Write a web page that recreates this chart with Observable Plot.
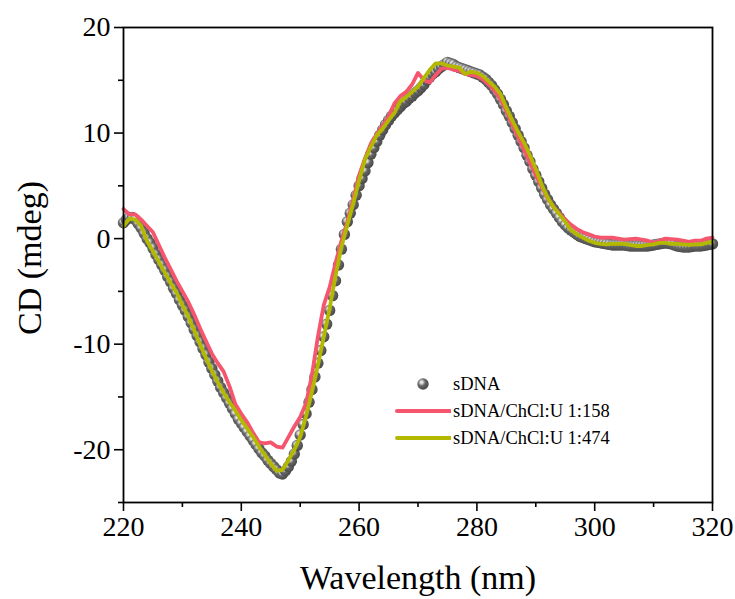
<!DOCTYPE html>
<html>
<head>
<meta charset="utf-8">
<script src="https://cdn.jsdelivr.net/npm/d3@7"></script>
<script src="https://cdn.jsdelivr.net/npm/@observablehq/plot@0.6"></script>
<style>
  html, body { margin: 0; padding: 0; background: #fff; }
  #wrap { position: relative; width: 735px; height: 599px; font-family: "Liberation Serif", "Times New Roman", serif; }
  #legend { position: absolute; left: 395px; top: 372px; font-size: 18.5px; color: #000; }
  .row { position: absolute; left: 0; height: 24px; width: 260px; }
  .row svg { position: absolute; left: 0; top: 0; }
  .row span { position: absolute; left: 58px; top: 0; line-height: 24px; white-space: nowrap; }
</style>
</head>
<body>
<div id="wrap">
  <div id="chart"></div>
  <div id="legend"></div>
</div>
<script>
// ---- data ----
// sDNA spheres: 220..320 nm every 0.5 nm
const sDNAWavelength = d3.range(0, 201).map(i => 220 + i * 0.5);
const sDNA = [
  1.5, 1.8, 2.0, 2.0, 1.8, 1.4, 1.0, 0.5, 0.0, -0.4,
  -0.9, -1.5, -2.0, -2.5, -3.0, -3.6, -4.1, -4.7, -5.2, -5.8,
  -6.3, -6.8, -7.4, -8.0, -8.6, -9.2, -9.8, -10.4, -11.0, -11.7,
  -12.3, -12.9, -13.5, -14.1, -14.6, -15.1, -15.6, -16.1, -16.6, -17.1,
  -17.5, -17.9, -18.3, -18.7, -19.1, -19.5, -19.9, -20.3, -20.6, -21.0,
  -21.3, -21.6, -21.9, -22.2, -22.3, -22.0, -21.6, -21.1, -20.4, -19.6,
  -18.6, -17.6, -16.6, -15.5, -14.3, -13.1, -11.8, -10.6, -9.3, -8.1,
  -6.8, -5.4, -4.0, -2.5, -1.0, 0.4, 1.6, 2.4, 3.2, 4.1,
  5.0, 5.7, 6.4, 7.2, 8.0, 8.6, 9.2, 9.8, 10.3, 10.8,
  11.2, 11.6, 11.9, 12.2, 12.5, 12.8, 13.0, 13.3, 13.5, 13.8,
  14.0, 14.3, 14.6, 15.0, 15.3, 15.6, 15.8, 16.1, 16.3, 16.5,
  16.7, 16.6, 16.5, 16.3, 16.2, 16.1, 16.0, 15.9, 15.8, 15.7,
  15.6, 15.5, 15.3, 15.1, 14.8, 14.5, 14.1, 13.7, 13.2, 12.7,
  12.1, 11.6, 11.0, 10.4, 9.8, 9.2, 8.6, 7.9, 7.3, 6.6,
  6.0, 5.4, 4.8, 4.2, 3.7, 3.2, 2.8, 2.4, 2.0, 1.6,
  1.3, 1.0, 0.8, 0.6, 0.4, 0.2, 0.1, 0.0, -0.1, -0.2,
  -0.3, -0.35, -0.4, -0.45, -0.5, -0.55, -0.6, -0.6, -0.6, -0.6,
  -0.6, -0.65, -0.7, -0.7, -0.7, -0.7, -0.7, -0.7, -0.7, -0.65,
  -0.6, -0.55, -0.5, -0.45, -0.4, -0.45, -0.5, -0.6, -0.7, -0.75,
  -0.8, -0.8, -0.8, -0.75, -0.7, -0.7, -0.7, -0.65, -0.6, -0.55,
  -0.5
];
// lines: 220..320 nm every 1 nm
const wavelength = d3.range(220, 321);
const ratio158 = [
  2.8, 2.3, 2.3, 1.8, 1.2, 0.6, -0.6, -1.8, -2.9, -4.0,
  -5.0, -6.0, -7.2, -8.5, -9.7, -10.9, -11.8, -12.6, -14.0, -15.7,
  -16.6, -17.4, -18.4, -19.3, -19.4, -19.3, -19.7, -19.8, -18.8, -17.8,
  -16.9, -15.6, -12.9, -9.3, -6.3, -4.6, -2.3, -0.2, 1.6, 3.7,
  6.0, 7.6, 9.0, 9.9, 10.7, 11.6, 12.8, 13.5, 13.9, 14.6,
  15.7, 15.0, 14.8, 15.5, 16.1, 16.2, 16.0, 15.9, 15.6, 15.5,
  15.4, 15.1, 14.6, 14.0, 13.2, 12.1, 10.8, 9.6, 8.4, 7.2,
  6.0, 4.9, 3.8, 3.0, 2.4, 1.8, 1.3, 0.9, 0.6, 0.4,
  0.2, 0.1, 0.1, 0.1, 0.0, -0.1, -0.05, 0.0, -0.1, -0.2,
  -0.4, -0.2, 0.0, -0.05, -0.1, -0.2, -0.3, -0.2, -0.2, 0.0,
  0.1
];
const ratio474 = [
  1.2, 1.9, 1.8, 1.2, -0.2, -1.2, -2.2, -3.2, -4.2, -5.1,
  -6.3, -7.4, -8.7, -10.0, -11.3, -12.5, -13.6, -14.6, -15.5, -16.3,
  -17.2, -18.0, -18.8, -19.7, -20.5, -21.3, -22.0, -21.9, -21.0, -20.0,
  -18.8, -16.8, -14.5, -12.0, -9.3, -6.6, -3.5, -0.8, 1.3, 3.3,
  5.5, 7.5, 8.7, 9.8, 10.4, 11.2, 11.9, 13.0, 13.4, 13.9,
  14.4, 15.2, 16.0, 16.6, 16.6, 16.4, 16.3, 16.2, 15.6, 15.8,
  15.7, 15.4, 14.9, 14.4, 13.7, 12.4, 11.2, 10.1, 9.1, 7.9,
  6.6, 5.1, 3.9, 3.0, 2.3, 1.6, 0.8, 0.4, 0.1, -0.2,
  -0.4, -0.5, -0.55, -0.5, -0.5, -0.5, -0.6, -0.7, -0.7, -0.6,
  -0.55, -0.4, -0.4, -0.5, -0.5, -0.55, -0.6, -0.55, -0.55, -0.4,
  -0.3
];
const seriesNames = ["sDNA", "sDNA/ChCl:U 1:158", "sDNA/ChCl:U 1:474"];
const seriesColors = ["#5a5a5a", "#f5566d", "#b3b800"];
const xMajorTicks = [220, 240, 260, 280, 300, 320];
const xMinorTicks = [230, 250, 270, 290, 310];
const yMajorTicks = [-20, -10, 0, 10, 20];
const yMinorTicks = [-25, -15, -5, 5, 15];

const dnaData = sDNAWavelength.map((w, i) => ({w, v: sDNA[i]}));
const d158 = wavelength.map((w, i) => ({w, v: ratio158[i]}));
const d474 = wavelength.map((w, i) => ({w, v: ratio474[i]}));

function addStops(g) {
  g.append("stop").attr("offset", "0%").attr("stop-color", "#ffffff");
  g.append("stop").attr("offset", "20%").attr("stop-color", "#d0d0d0");
  g.append("stop").attr("offset", "50%").attr("stop-color", "#666666");
  g.append("stop").attr("offset", "100%").attr("stop-color", "#4a4a4a");
}
const sphereDefs = () => {
  const defs = d3.create("svg:defs");
  const g = defs.append("radialGradient").attr("id", "sphere")
    .attr("cx", "38%").attr("cy", "35%").attr("r", "65%");
  addStops(g);
  return defs.node();
};

const FONT = "'Liberation Serif', 'Times New Roman', serif";
const chart = Plot.plot({
  width: 735,
  height: 599,
  marginLeft: 123,
  marginRight: 23,
  marginTop: 27,
  marginBottom: 97,
  style: {fontFamily: FONT, color: "#000", background: "#fff"},
  x: {domain: [220, 320]},
  y: {domain: [-25, 20]},
  marks: [
    sphereDefs,
    Plot.dot(dnaData, {x: "w", y: "v", r: 5.7, fill: "url(#sphere)", stroke: "none"}),
    Plot.line(d158, {x: "w", y: "v", stroke: seriesColors[1], strokeWidth: 3.8, strokeLinejoin: "round"}),
    Plot.line(d474, {x: "w", y: "v", stroke: seriesColors[2], strokeWidth: 3.8, strokeLinejoin: "round"}),
    Plot.frame({stroke: "#000", strokeWidth: 1.8}),
    Plot.axisX({ticks: xMajorTicks, tickSize: 9, tickPadding: 5, fontSize: 28, strokeWidth: 1.6, label: null, tickFormat: d => String(d), fontFamily: FONT}),
    Plot.axisX({ticks: xMinorTicks, tickSize: 5, tickFormat: () => "", strokeWidth: 1.6, label: null}),
    Plot.axisY({ticks: yMajorTicks, tickSize: 9, tickPadding: 4, fontSize: 28, strokeWidth: 1.6, label: null, tickFormat: d => String(d), fontFamily: FONT}),
    Plot.axisY({ticks: yMinorTicks, tickSize: 5, tickFormat: () => "", strokeWidth: 1.6, label: null}),
    Plot.text(["Wavelength (nm)"], {frameAnchor: "bottom", dy: 76, lineAnchor: "middle", textAnchor: "middle", fontSize: 34, fill: "#000", fontFamily: FONT}),
    Plot.text(["CD (mdeg)"], {frameAnchor: "left", dx: -93, dy: -7, rotate: -90, textAnchor: "middle", lineAnchor: "middle", fontSize: 34, fill: "#000", fontFamily: FONT})
  ]
});
document.getElementById("chart").appendChild(chart);

// legend
const legend = d3.select("#legend");
seriesNames.forEach((name, i) => {
  const row = legend.append("div").attr("class", "row").style("top", (i * 27) + "px");
  const sw = row.append("svg").attr("width", 56).attr("height", 24);
  if (i === 0) {
    const g = sw.append("defs").append("radialGradient").attr("id", "sphereLeg")
      .attr("cx", "38%").attr("cy", "35%").attr("r", "65%");
    addStops(g);
    sw.append("circle").attr("cx", 28).attr("cy", 12).attr("r", 5.7).attr("fill", "url(#sphereLeg)");
  } else {
    sw.append("line").attr("x1", 2).attr("x2", 55).attr("y1", 12).attr("y2", 12)
      .attr("stroke", seriesColors[i]).attr("stroke-width", 4).attr("stroke-linecap", "round");
  }
  row.append("span").text(name);
});
</script>
</body>
</html>
